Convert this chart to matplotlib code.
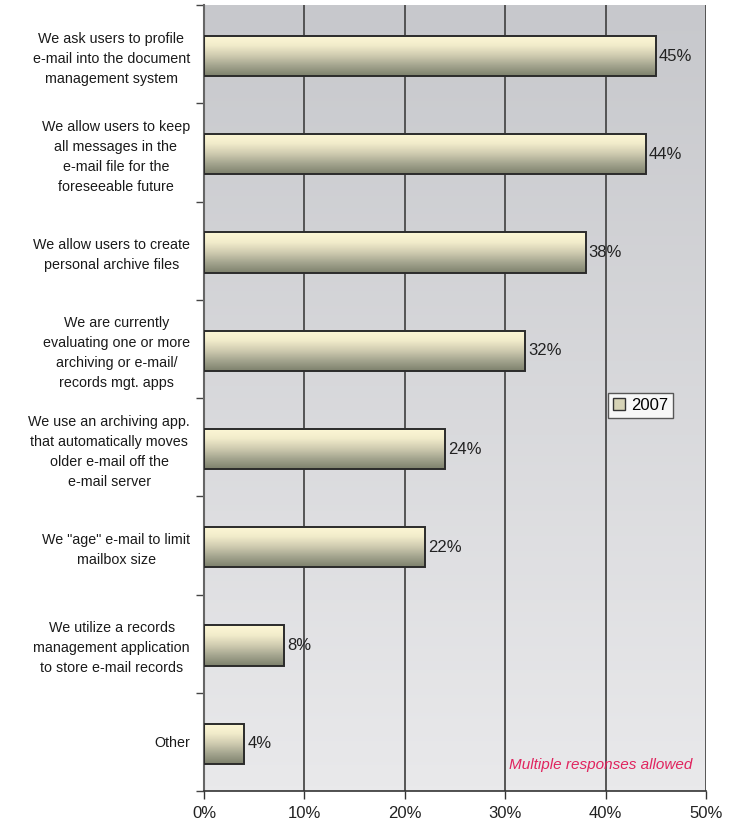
import numpy as np
import matplotlib
matplotlib.use("Agg")
import matplotlib.pyplot as plt
from matplotlib.colors import LinearSegmentedColormap
from matplotlib.patches import Patch
from matplotlib.ticker import FixedLocator

categories = [
    "We ask users to profile\ne-mail into the document\nmanagement system",
    "We allow users to keep\nall messages in the\ne-mail file for the\nforeseeable future",
    "We allow users to create\npersonal archive files",
    "We are currently\nevaluating one or more\narchiving or e-mail/\nrecords mgt. apps",
    "We use an archiving app.\nthat automatically moves\nolder e-mail off the\ne-mail server",
    "We \"age\" e-mail to limit\nmailbox size",
    "We utilize a records\nmanagement application\nto store e-mail records",
    "Other",
]
values_2007 = [45, 44, 38, 32, 24, 22, 8, 4]
x_ticks = [0, 10, 20, 30, 40, 50]
x_tick_labels = ["0%", "10%", "20%", "30%", "40%", "50%"]
series_name = "2007"
note = "Multiple responses allowed"

plt.rcParams["font.family"] = ["Liberation Sans", "DejaVu Sans"]

fig = plt.figure(figsize=(7.4, 8.24), dpi=100)
ax = fig.add_axes([204 / 740, 1 - 791 / 824, (706 - 204) / 740, (791 - 5) / 824])

n = len(categories)
ypos = np.arange(n)
ax.set_xlim(0, 50)
ax.set_ylim(n - 0.5, -0.5)

# plot-area background: vertical grey gradient
bg_cmap = LinearSegmentedColormap.from_list("bg", ["#c7c8cc", "#e9e9eb"])
grad = np.linspace(0, 1, 256).reshape(-1, 1)
ax.imshow(grad, cmap=bg_cmap, aspect="auto", extent=(0, 50, n - 0.5, -0.5),
          zorder=0, interpolation="bicubic")

# gridlines
for xv in x_ticks[1:]:
    ax.axvline(xv, color="#4a4a4a", lw=1.3, zorder=1)

# bars with a cream-to-olive vertical gradient
bar_cmap = LinearSegmentedColormap.from_list(
    "bar", ["#fdf8d6", "#f2eccb", "#cfcbb0", "#a3a48e", "#7d806c"])
bh = 0.41
bars = ax.barh(ypos + 0.02, values_2007, height=bh, color="none",
               edgecolor="#2b2b2b", lw=1.4, zorder=3)
for b, v in zip(bars, values_2007):
    x0, y0 = b.get_x(), b.get_y()
    ax.imshow(grad, cmap=bar_cmap, aspect="auto",
              extent=(x0, x0 + b.get_width(), y0 + b.get_height(), y0),
              zorder=2, interpolation="bicubic")
    ax.text(x0 + b.get_width() + 0.3, b.get_y() + b.get_height() / 2,
            f"{v}%", va="center", ha="left", fontsize=12, color="#222222",
            zorder=4)
ax.set_ylim(n - 0.5, -0.5)
ax.set_xlim(0, 50)

# axes styling
for s in ["top", "right"]:
    ax.spines[s].set_visible(False)
ax.spines["left"].set_color("#666666")
ax.spines["left"].set_linewidth(1.5)
ax.spines["bottom"].set_color("#333333")
ax.spines["bottom"].set_linewidth(1.2)

ax.set_xticks(x_ticks)
ax.set_xticklabels(x_tick_labels, fontsize=12, color="#222222")
ax.tick_params(axis="x", length=6, width=1.0, color="#333333", pad=5)

ax.yaxis.set_major_locator(FixedLocator(np.arange(-0.5, n, 1.0)))
ax.yaxis.set_major_formatter(plt.NullFormatter())
ax.tick_params(axis="y", which="major", length=6, width=1.0, color="#444444")
ax.yaxis.set_minor_locator(FixedLocator(ypos))
ax.set_yticklabels(categories, minor=True, fontsize=10.3, color="#1a1a1a",
                   linespacing=1.55)
ax.tick_params(axis="y", which="minor", length=0, pad=10)
for lab in ax.get_yticklabels(minor=True):
    lab.set_multialignment("center")

# legend
handle = Patch(facecolor="#d6d3b6", edgecolor="#333333", lw=1.0)
leg = ax.legend([handle], [series_name], loc="upper left",
                bbox_to_anchor=((608 - 204) / 502, 1 - (393 - 5) / 786),
                fontsize=12, frameon=True, fancybox=False,
                handlelength=0.7, handleheight=0.7, handletextpad=0.4,
                borderpad=0.3, borderaxespad=0)
leg.get_frame().set_edgecolor("#333333")
leg.get_frame().set_linewidth(1.0)
leg.get_frame().set_facecolor("white")

ax.text(48.6, 7.24, note, ha="right", va="center", fontsize=11,
        style="italic", color="#e0245e", zorder=4)

fig.savefig("out.png", dpi=100)
